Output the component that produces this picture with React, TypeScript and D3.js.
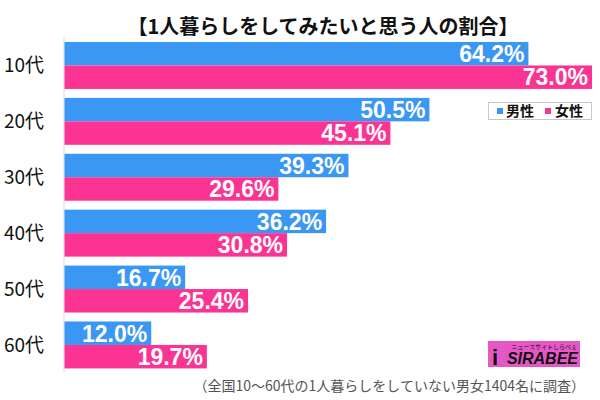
import React from "react";
import * as d3 from "d3";

const categories = ["10代", "20代", "30代", "40代", "50代", "60代"];
const male = [64.2, 50.5, 39.3, 36.2, 16.7, 12.0];
const female = [73.0, 45.1, 29.6, 30.8, 25.4, 19.7];
const seriesNames = ["男性", "女性"];
const title = "【1人暮らしをしてみたいと思う人の割合】";
const footnote = "（全国10～60代の1人暮らしをしていない男女1404名に調査）";

const BLUE = "#3a97f3";
const PINK = "#fb3393";
const JP = "'Noto Sans CJK JP', 'Noto Sans', sans-serif";

export default function App() {
  const W = 600, H = 400;
  const x = d3.scaleLinear().domain([0, 73]).range([64.5, 592]);
  const y = d3.scaleBand<string>().domain(categories).range([37.5, 372.9]).paddingInner(0.16).paddingOuter(0.08);
  const bh = y.bandwidth() / 2;
  const series = [male, female];
  const colors = [BLUE, PINK];

  return (
    <svg width={W} height={H} style={{ position: "absolute", left: 0, top: 0, background: "#fff" }}>
      <rect width={W} height={H} fill="#fff" />
      <text x={323} y={34} textAnchor="middle" fontFamily={JP} fontWeight={700} fontSize={20} fill="#111">{title}</text>
      <line x1={64} x2={64} y1={37} y2={372} stroke="#d8d8d8" strokeWidth={1} />
      {categories.map((c, i) => {
        const y0 = y(c)!;
        return (
          <g key={c}>
            <text x={4} y={y0 + y.bandwidth() / 2 + 7} fontFamily={JP} fontSize={19} fill="#111">{c}</text>
            {series.map((s, j) => {
              const top = y0 + j * bh;
              const xe = x(s[i]);
              return (
                <g key={j}>
                  <rect x={x(0)} y={top} width={xe - x(0)} height={bh} fill={colors[j]} />
                  <text x={xe - 4} y={top + bh / 2 + 8.3} textAnchor="end" fontFamily="'Liberation Sans', Arial, sans-serif" fontWeight={700} fontSize={23} fill="#fff">{s[i].toFixed(1)}%</text>
                </g>
              );
            })}
          </g>
        );
      })}
      <g>
        <rect x={488.5} y={102.5} width={103} height={17} fill="#fff" stroke="#c8c8c8" strokeWidth={1} />
        <rect x={497} y={108} width={6} height={6} fill={BLUE} />
        <text x={506} y={116} fontFamily={JP} fontWeight={700} fontSize={14} fill="#111">{seriesNames[0]}</text>
        <rect x={545} y={108} width={6} height={6} fill={PINK} />
        <text x={555} y={116} fontFamily={JP} fontWeight={700} fontSize={14} fill="#111">{seriesNames[1]}</text>
      </g>
      <g>
        <rect x={488} y={341} width={92} height={26} fill="#e657c6" />
        <text x={577} y={349} textAnchor="end" fontFamily={JP} fontSize={6} fill="#111">ニュースサイトしらべぇ</text>
        <text x={492} y={365} fontFamily="'Liberation Sans', Arial, sans-serif" fontWeight={700} fontSize={22} fill="#111">i</text>
        <text x={578} y={364} textAnchor="end" fontFamily="'Liberation Sans', Arial, sans-serif" fontWeight={700} fontStyle="italic" fontSize={16} fill="#111">SIRABEE</text>
      </g>
      <text x={585} y={391} textAnchor="end" fontFamily={JP} fontSize={14} fill="#555">{footnote}</text>
    </svg>
  );
}
